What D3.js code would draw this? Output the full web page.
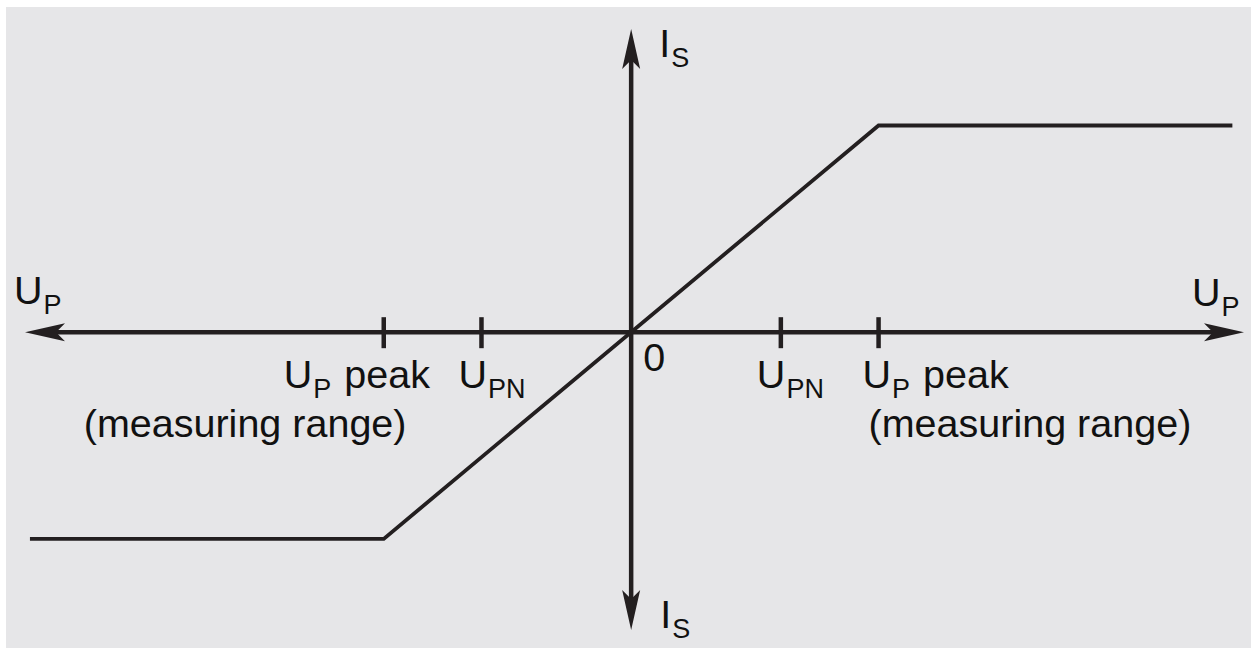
<!DOCTYPE html>
<html>
<head>
<meta charset="utf-8">
<script src="https://cdn.jsdelivr.net/npm/d3@7"></script>
<style>
  html, body { margin: 0; padding: 0; background: #fff; }
  svg { display: block; }
  text { font-family: "Liberation Sans", Arial, Helvetica, sans-serif; fill: #111; }
</style>
</head>
<body>
<svg id="chart" width="1251" height="648"></svg>
<script>
// transfer characteristic: secondary current vs primary voltage (normalised, U_P peak = 1)
const curveX = [-2.43, -1, 1, 2.43];
const curveY = [-1, -1, 1, 1];

// marked points on the U_P axis
const tickValues = [-1, -0.605, 0.605, 1];
const tickMain = ['U', 'U', 'U', 'U'];
const tickSub = ['P', 'PN', 'PN', 'P'];
const tickRest = [' peak', '', '', ' peak'];
const rangeNote = '(measuring range)';

const W = 1251, H = 648;
const ink = '#231f20';

const svg = d3.select('#chart');

svg.append('rect').attr('x', 6).attr('y', 7).attr('width', W - 6).attr('height', H - 7)
  .attr('fill', '#e6e6e8');

const x = d3.scaleLinear().domain([-2.45, 2.477]).range([25, 1244]);
const y = d3.scaleLinear().domain([-1.441, 1.467]).range([630, 29]);

const x0 = x(0), y0 = y(0);

// arrowhead shape pointing right, tip at origin
const head = 'M0,0 L-40,-9 L-31,0 L-40,9 Z';

function arrowHead(px, py, angle) {
  svg.append('path').attr('d', head).attr('fill', ink)
    .attr('transform', `translate(${px},${py}) rotate(${angle})`);
}

// axes
const axes = svg.append('g').attr('stroke', ink).attr('stroke-width', 4.5);
axes.append('line').attr('x1', x.range()[0] + 20).attr('x2', x.range()[1] - 20)
  .attr('y1', y0).attr('y2', y0);
axes.append('line').attr('y1', y.range()[1] + 20).attr('y2', y.range()[0] - 20)
  .attr('x1', x0).attr('x2', x0);
arrowHead(x.range()[0], y0, 180);
arrowHead(x.range()[1], y0, 0);
arrowHead(x0, y.range()[1], -90);
arrowHead(x0, y.range()[0], 90);

// tick marks
svg.append('g').selectAll('line').data(tickValues).join('line')
  .attr('x1', d => x(d)).attr('x2', d => x(d))
  .attr('y1', y0 - 15).attr('y2', y0 + 16)
  .attr('stroke', ink).attr('stroke-width', 4.5);

// characteristic curve
const line = d3.line().x((d, i) => x(d)).y((d, i) => y(curveY[i]));
svg.append('path').datum(curveX).attr('d', line)
  .attr('fill', 'none').attr('stroke', ink).attr('stroke-width', 3.8)
  .attr('stroke-linejoin', 'miter');

// label helper: main letter + lowered subscript + rest
function label(px, py, main, sub, rest) {
  const t = svg.append('text').attr('x', px).attr('y', py).style('font-size', '39.5px');
  t.append('tspan').text(main);
  t.append('tspan').attr('dx', 1).attr('dy', 10).style('font-size', '27px').text(sub);
  if (rest) t.append('tspan').attr('dy', -10).attr('dx', 2).text(rest);
  return t;
}

const labelDx = [-100, -23, -24, -16];
tickValues.forEach((v, i) => {
  label(x(v) + labelDx[i], y0 + 56, tickMain[i], tickSub[i], tickRest[i]);
});

svg.append('g').selectAll('text').data([-1, 1]).join('text')
  .attr('x', d => x(d) + (d < 0 ? -300 : -10))
  .attr('y', y0 + 105)
  .style('font-size', '39.5px')
  .text(rangeNote);

// origin
svg.append('text').attr('x', x0 + 12).attr('y', y0 + 39).style('font-size', '39.5px').text('0');

// axis names
label(14, y0 - 28, 'U', 'P');
label(1192, y0 - 26, 'U', 'P');
label(x0 + 28, 57, 'I', 'S');
label(x0 + 29, 628, 'I', 'S');
</script>
</body>
</html>
